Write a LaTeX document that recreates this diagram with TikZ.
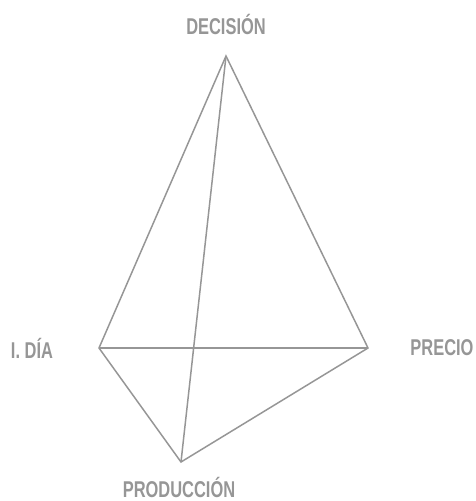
\documentclass[tikz,border=0pt]{standalone}
\usepackage{fontspec}
\setmainfont{Liberation Sans}[FakeStretch=0.72]
\usepackage{tikz}
\usetikzlibrary{positioning}
\definecolor{grisAresta}{RGB}{150,150,150}
\definecolor{grisEtiq}{RGB}{150,150,150}

\begin{document}
\begin{tikzpicture}[x=0.02cm, y=-0.02cm,
    aresta/.style={grisAresta, line width=0.85pt, line join=miter},
    etiqueta/.style={grisEtiq, font=\bfseries\fontsize{13}{15}\selectfont, inner sep=0pt}]

% Marc
\useasboundingbox (0,0) rectangle (476,501);

% Vertexs
\coordinate (decisio) at (226,56);
\coordinate (dia) at (99,348);
\coordinate (preu) at (368,348);
\coordinate (produccio) at (181,462);

% Etiquetes
\node[etiqueta] (tDecisio) at (226,24) {DECISIÓN};
\node[etiqueta] (tDia) at (32,348) {I. DÍA};
\node[etiqueta] (tPreu) at (442,348) {PRECIO};
\node[etiqueta] (tProduccio) at (179,487) {PRODUCCIÓN};

% Arestes
\draw[aresta] (dia) -- (decisio) -- (preu) -- (produccio) -- cycle;
\draw[aresta] (dia) -- (preu);
\draw[aresta] (decisio) -- (produccio);

\end{tikzpicture}
\end{document}
